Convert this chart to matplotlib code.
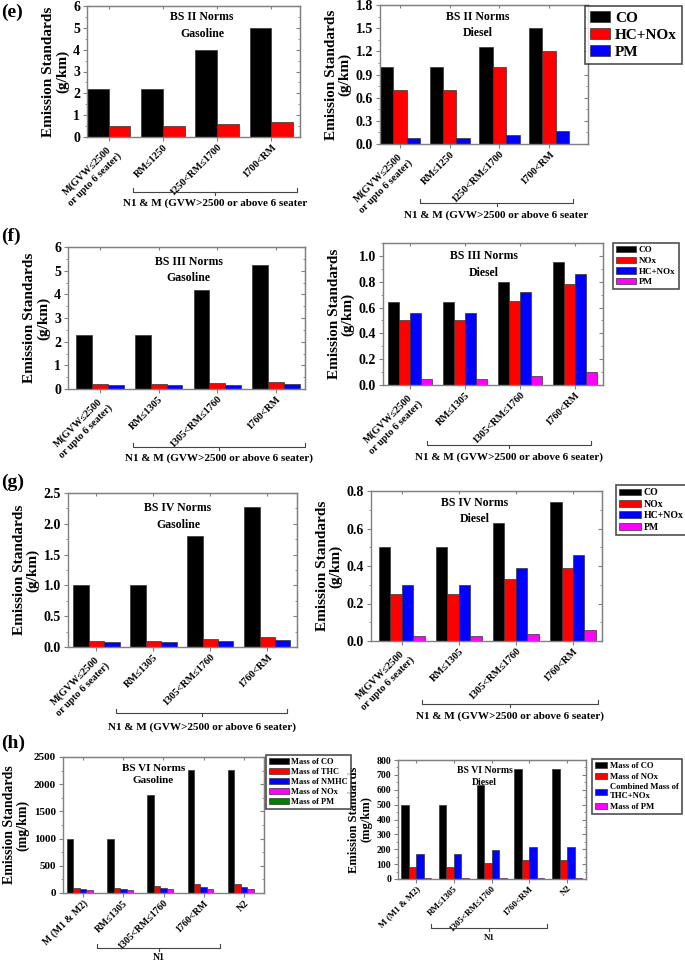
import matplotlib
matplotlib.use("Agg")
import matplotlib.pyplot as plt
from matplotlib.ticker import MultipleLocator
from matplotlib.lines import Line2D
import numpy as np

plt.rcParams['font.family'] = ['Liberation Serif', 'DejaVu Serif']
plt.rcParams['font.weight'] = 'bold'
plt.rcParams['axes.labelweight'] = 'bold'

# Category labels
cats_bs2 = ["M(GVW≤2500\nor upto 6 seater)", "RM≤1250", "1250<RM≤1700", "1700<RM"]
cats_bs34 = ["M(GVW≤2500\nor upto 6 seater)", "RM≤1305", "1305<RM≤1760", "1760<RM"]
cats_bs6 = ["M (M1 & M2)", "RM≤1305", "1305<RM≤1760", "1760<RM", "N2"]

# BS II (g/km)
bs2_gas_co = [2.2, 2.2, 4.0, 5.0]
bs2_gas_hcnox = [0.5, 0.5, 0.6, 0.7]
bs2_dsl_co = [1.0, 1.0, 1.25, 1.5]
bs2_dsl_hcnox = [0.7, 0.7, 1.0, 1.2]
bs2_dsl_pm = [0.08, 0.08, 0.12, 0.17]

# BS III (g/km)
bs3_gas_co = [2.3, 2.3, 4.17, 5.22]
bs3_gas_hc = [0.2, 0.2, 0.25, 0.29]
bs3_gas_nox = [0.15, 0.15, 0.18, 0.21]
bs3_dsl_co = [0.64, 0.64, 0.8, 0.95]
bs3_dsl_nox = [0.5, 0.5, 0.65, 0.78]
bs3_dsl_hcnox = [0.56, 0.56, 0.72, 0.86]
bs3_dsl_pm = [0.05, 0.05, 0.07, 0.1]

# BS IV (g/km)
bs4_gas_co = [1.0, 1.0, 1.81, 2.27]
bs4_gas_hc = [0.1, 0.1, 0.13, 0.16]
bs4_gas_nox = [0.08, 0.08, 0.1, 0.11]
bs4_dsl_co = [0.5, 0.5, 0.63, 0.74]
bs4_dsl_nox = [0.25, 0.25, 0.33, 0.39]
bs4_dsl_hcnox = [0.3, 0.3, 0.39, 0.46]
bs4_dsl_pm = [0.025, 0.025, 0.04, 0.06]

# BS VI (mg/km)
bs6_gas_co = [1000, 1000, 1810, 2270, 2270]
bs6_gas_thc = [100, 100, 130, 160, 160]
bs6_gas_nmhc = [68, 68, 90, 108, 108]
bs6_gas_nox = [60, 60, 75, 82, 82]
bs6_gas_pm = [4.5, 4.5, 4.5, 4.5, 4.5]
bs6_dsl_co = [500, 500, 630, 740, 740]
bs6_dsl_nox = [80, 80, 105, 125, 125]
bs6_dsl_thcnox = [170, 170, 195, 215, 215]
bs6_dsl_pm = [4.5, 4.5, 4.5, 4.5, 4.5]

BLACK, RED, BLUE, PINK, GREEN = "black", "#ff0000", "#0000ff", "#ff00ff", "#008000"
SPINE = "#808080"

W, H = 685, 965
fig = plt.figure(figsize=(W / 100, H / 100), dpi=100)


def add_ax(l, t, r, b):
    return fig.add_axes([l / W, 1 - b / H, (r - l) / W, (b - t) / H])


def draw(ax, cats, series, colors, width, xlim, ylim, step, minor, fmt,
         tick_fs=10, cat_fs=7.3, ylab="(g/km)", ylab_fs=11):
    n = len(series)
    x = np.arange(len(cats))
    conts = []
    for i, (vals, c) in enumerate(zip(series, colors)):
        conts.append(ax.bar(x + (i - (n - 1) / 2) * width, vals, width, color=c,
                            edgecolor="#333333", linewidth=0.5))
    ax.set_xlim(*xlim)
    ax.set_ylim(*ylim)
    ax.set_xticks(x, cats, rotation=45, ha="right", rotation_mode="anchor",
                  fontsize=cat_fs, multialignment="center")
    ax.yaxis.set_major_locator(MultipleLocator(step))
    ax.yaxis.set_minor_locator(MultipleLocator(minor))
    ax.yaxis.set_major_formatter(fmt)
    ax.tick_params(axis="y", which="both", direction="out", labelsize=tick_fs,
                   color=SPINE, pad=2)
    ax.tick_params(axis="y", which="major", length=3)
    ax.tick_params(axis="y", which="minor", length=1.5)
    ax.tick_params(axis="x", direction="out", length=3, color=SPINE, pad=1)
    for s in ax.spines.values():
        s.set_color(SPINE)
        s.set_linewidth(1)
    sy = ax.secondary_yaxis("right")
    sy.yaxis.set_major_locator(MultipleLocator(step))
    sy.yaxis.set_minor_locator(MultipleLocator(minor))
    sy.tick_params(which="both", direction="in", labelright=False, color=SPINE)
    sy.tick_params(which="major", length=3)
    sy.tick_params(which="minor", length=1.5)
    sy.spines["right"].set_color(SPINE)
    sx = ax.secondary_xaxis("top")
    sx.set_xticks(x)
    sx.tick_params(direction="in", labeltop=False, length=2, color=SPINE)
    sx.spines["top"].set_color(SPINE)
    ax.set_ylabel("Emission Standards\n" + ylab, fontsize=ylab_fs, linespacing=1.05,
                  labelpad=3)
    return conts


def note(ax, text, xf, yf, fs=8.5):
    ax.text(xf, yf, text, transform=ax.transAxes, ha="center", va="top",
            fontsize=fs, fontweight="bold", linespacing=1.5)


def bracket(x0, x1, y, label, ty, fs=8):
    xs = [x0 / W, x0 / W, x1 / W, x1 / W]
    ys = [1 - (y - 4) / H, 1 - y / H, 1 - y / H, 1 - (y - 4) / H]
    fig.add_artist(Line2D(xs, ys, color="#444444", lw=0.8))
    xm = (x0 + x1) / 2
    fig.add_artist(Line2D([xm / W, xm / W], [1 - y / H, 1 - (y + 3) / H],
                          color="#444444", lw=0.8))
    fig.text(xm / W, 1 - ty / H, label, ha="center", va="center", fontsize=fs,
             fontweight="bold")


def legend(conts, labels, x, y, fs, hl=1.6, ls=0.25):
    lg = fig.legend(conts, labels, loc="upper left",
                    bbox_to_anchor=(x / W, 1 - y / H), bbox_transform=fig.transFigure,
                    frameon=True, fancybox=False, borderaxespad=0,
                    handlelength=hl, handletextpad=0.3, labelspacing=ls,
                    borderpad=0.35, prop={"weight": "bold", "size": fs})
    lg.get_frame().set_edgecolor("#222222")
    lg.get_frame().set_linewidth(1.2)
    return lg


f0 = "{x:.0f}"
f1 = "{x:.1f}"

# (e) BS II
ax = add_ax(87, 6, 300, 137)
draw(ax, cats_bs2, [bs2_gas_co, bs2_gas_hcnox], [BLACK, RED], 0.4, (-0.4, 3.53),
     (0, 6), 1, 0.5, f0)
note(ax, "BS II Norms\nGasoline", 0.54, 0.96)
bracket(133, 297, 192, "N1 & M (GVW>2500 or above 6 seater", 203)

ax = add_ax(380, 5, 588, 144)
c = draw(ax, cats_bs2, [bs2_dsl_co, bs2_dsl_hcnox, bs2_dsl_pm], [BLACK, RED, BLUE],
         0.27, (-0.4, 3.78), (0, 1.8), 0.3, 0.15, f1)
note(ax, "BS II Norms\nDiesel", 0.47, 0.96)
bracket(420, 573, 203, "N1 & M (GVW>2500 or above 6 seater", 215)
legend(c, ["CO", "HC+NOx", "PM"], 585, 6, 11, hl=1.3, ls=0.2)

# (f) BS III
ax = add_ax(68, 247, 305, 389)
draw(ax, cats_bs34, [bs3_gas_co, bs3_gas_hc, bs3_gas_nox], [BLACK, RED, BLUE], 0.27,
     (-0.54, 3.49), (0, 6), 1, 0.5, f0)
note(ax, "BS III Norms\nGasoline", 0.51, 0.94)
bracket(133, 305, 447, "N1 & M (GVW>2500 or above 6 seater)", 458)

ax = add_ax(383, 243, 603, 385)
c = draw(ax, cats_bs34, [bs3_dsl_co, bs3_dsl_nox, bs3_dsl_hcnox, bs3_dsl_pm],
         [BLACK, RED, BLUE, PINK], 0.2, (-0.49, 3.51), (0, 1.1), 0.2, 0.1, f1)
note(ax, "BS III Norms\nDiesel", 0.46, 0.95)
bracket(427, 591, 445, "N1 & M (GVW>2500 or above 6 seater)", 457)
legend(c, ["CO", "NOx", "HC+NOx", "PM"], 613, 243, 6.5, hl=2.2)

# (g) BS IV
ax = add_ax(68, 493, 297, 647)
draw(ax, cats_bs34, [bs4_gas_co, bs4_gas_hc, bs4_gas_nox], [BLACK, RED, BLUE], 0.27,
     (-0.5, 3.52), (0, 2.5), 0.5, 0.25, f1)
note(ax, "BS IV Norms\nGasoline", 0.48, 0.94)
bracket(116, 287, 713, "N1 & M (GVW>2500 or above 6 seater)", 727)

ax = add_ax(371, 491, 602, 641)
c = draw(ax, cats_bs34, [bs4_dsl_co, bs4_dsl_nox, bs4_dsl_hcnox, bs4_dsl_pm],
         [BLACK, RED, BLUE, PINK], 0.2, (-0.54, 3.51), (0, 0.8), 0.2, 0.1, f1)
note(ax, "BS IV Norms\nDiesel", 0.45, 0.96)
bracket(422, 598, 704, "N1 & M (GVW>2500 or above 6 seater)", 716)
legend(c, ["CO", "NOx", "HC+NOx", "PM"], 616, 485, 7, hl=2.2)

# (h) BS VI
ax = add_ax(63, 757, 264, 893)
c = draw(ax, cats_bs6, [bs6_gas_co, bs6_gas_thc, bs6_gas_nmhc, bs6_gas_nox, bs6_gas_pm],
         [BLACK, RED, BLUE, PINK, GREEN], 0.16, (-0.5, 4.5), (0, 2500), 500, 250, f0,
         tick_fs=8, cat_fs=7, ylab="(mg/km)", ylab_fs=10)
note(ax, "BS VI Norms\nGasoline", 0.45, 0.95, fs=8)
bracket(97, 220, 948, "N1", 958, fs=7)
legend(c, ["Mass of CO", "Mass of THC", "Mass of NMHC", "Mass of NOx", "Mass of PM"],
       266, 755, 6, hl=2.4)

ax = add_ax(398, 760, 586, 879)
c = draw(ax, cats_bs6, [bs6_dsl_co, bs6_dsl_nox, bs6_dsl_thcnox, bs6_dsl_pm],
         [BLACK, RED, BLUE, PINK], 0.2, (-0.48, 4.5), (0, 800), 100, 50, f0,
         tick_fs=7, cat_fs=6.5, ylab="(mg/km)", ylab_fs=9)
note(ax, "BS VI Norms\nDiesel", 0.46, 0.95, fs=7)
bracket(431, 547, 928, "N1", 938, fs=6.5)
legend(c, ["Mass of CO", "Mass of NOx", "Combined Mass of\nTHC+NOx", "Mass of PM"],
       592, 759, 6.2, hl=1.4, ls=0.3)

# panel letters
for lab, y in [("(e)", 4), ("(f)", 228), ("(g)", 474), ("(h)", 735)]:
    fig.text(1 / W, 1 - y / H, lab, fontsize=14, fontweight="bold", va="top")

fig.savefig("out.png", dpi=100)
